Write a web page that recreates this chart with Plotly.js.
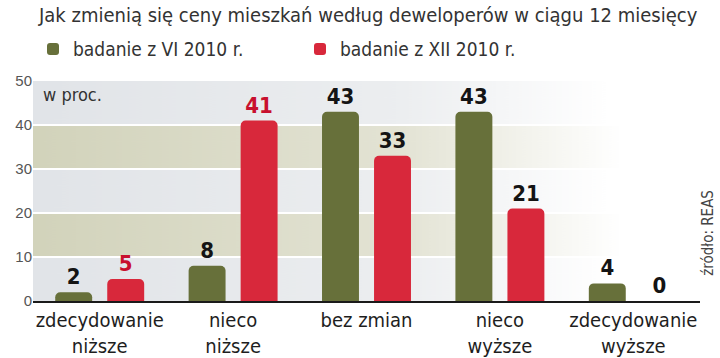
<!DOCTYPE html>
<html>
<head>
<meta charset="utf-8">
<script src="https://cdn.plot.ly/plotly-3.0.1.min.js"></script>
<style>
html,body{margin:0;padding:0;background:#fff;}
#chart{width:720px;height:358px;}
</style>
</head>
<body>
<div id="chart"></div>
<script>
// ---- data ----
const categories = ['zdecydowanie<br>niższe', 'nieco<br>niższe', 'bez zmian', 'nieco<br>wyższe', 'zdecydowanie<br>wyższe'];
const seriesNames = ['badanie z VI 2010 r.', 'badanie z XII 2010 r.'];
const valuesJun = [2, 8, 43, 43, 4];
const valuesDec = [5, 41, 33, 21, 0];
const yTickValues = [0, 10, 20, 30, 40, 50];
const beigeBands = [[10, 20], [30, 40]];
const titleText = 'Jak zmienią się ceny mieszkań według deweloperów w ciągu 12 miesięcy';
const unitText = 'w proc.';
const sourceText = 'źródło: REAS';

// ---- background (gradient fading to white on the right) ----
const yMax = 50;
function makeBackground() {
  const W = 400, H = 500;
  const c = document.createElement('canvas');
  c.width = W; c.height = H;
  const ctx = c.getContext('2d');
  const g = ctx.createLinearGradient(0, 0, W, 0);
  g.addColorStop(0, '#e1e4e8');
  g.addColorStop(0.55, '#eceef0');
  g.addColorStop(0.86, '#ffffff');
  g.addColorStop(1, '#ffffff');
  ctx.fillStyle = g;
  ctx.fillRect(0, 0, W, H);
  beigeBands.forEach(([lo, hi]) => {
    const gb = ctx.createLinearGradient(0, 0, W, 0);
    gb.addColorStop(0, '#d2d3bb');
    gb.addColorStop(0.55, '#e3e3d4');
    gb.addColorStop(0.88, '#ffffff');
    gb.addColorStop(1, '#ffffff');
    ctx.fillStyle = gb;
    const top = (yMax - hi) / yMax * H, bot = (yMax - lo) / yMax * H;
    ctx.fillRect(0, top, W, bot - top);
  });
  return c.toDataURL('image/png');
}

const narrow = '"Liberation Sans Narrow", "DejaVu Sans Condensed", Arial, sans-serif';
const olive = '#67703a';
const red = '#d8283b';

const traceJun = {
  type: 'bar', name: seriesNames[0], x: categories, y: valuesJun,
  marker: {color: olive, cornerradius: 5},
  text: valuesJun.map(String), textposition: 'outside',
  textfont: {family: narrow, size: 22, color: '#141414', weight: 'bold'},
  cliponaxis: false, hoverinfo: 'x+y'
};
const traceDec = {
  type: 'bar', name: seriesNames[1], x: categories, y: valuesDec,
  marker: {color: red, cornerradius: 5},
  text: valuesDec.map(String), textposition: 'outside',
  textfont: {family: narrow, size: 22, color: ['#c8102e', '#c8102e', '#141414', '#141414', '#141414'], weight: 'bold'},
  cliponaxis: false, hoverinfo: 'x+y'
};

const layout = {
  width: 720, height: 358,
  margin: {l: 33, r: 20, t: 81, b: 57},
  paper_bgcolor: '#ffffff', plot_bgcolor: '#ffffff',
  font: {family: narrow, color: '#222'},
  title: {text: titleText, x: 39 / 720, xanchor: 'left', xref: 'container', y: 1 - 15 / 358, yanchor: 'middle', yref: 'container',
          font: {family: narrow, size: 20, color: '#333'}},
  barmode: 'group', bargap: 0.22, bargroupgap: 0.29,
  showlegend: true,
  legend: {orientation: 'h', x: 0.0, xanchor: 'left', y: 1.145, yanchor: 'middle',
           font: {family: narrow, size: 19, color: '#333'}, entrywidth: 222, entrywidthmode: 'pixels',
           bgcolor: 'rgba(0,0,0,0)', traceorder: 'normal'},
  xaxis: {type: 'category', showgrid: false, showline: true, linecolor: '#1a1a1a', linewidth: 2,
          ticks: '', tickfont: {family: narrow, size: 20, color: '#1e1e1e'}, fixedrange: true},
  yaxis: {range: [0, 50], tickvals: yTickValues, showgrid: true, gridcolor: '#ffffff', gridwidth: 2,
          zeroline: false, showline: false, ticks: '', ticklen: 0,
          tickfont: {family: '"Liberation Sans", Arial, sans-serif', size: 15, color: '#555'}, fixedrange: true},
  images: [{source: makeBackground(), xref: 'paper', yref: 'y', x: 0, y: yMax, sizex: 1, sizey: yMax,
            sizing: 'stretch', layer: 'below', xanchor: 'left', yanchor: 'top'}],
  annotations: [
    {text: unitText, xref: 'paper', yref: 'y', x: 0.012, y: 47, xanchor: 'left', yanchor: 'middle',
     showarrow: false, font: {family: narrow, size: 18, color: '#333'}},
    {text: sourceText, xref: 'paper', yref: 'paper', x: 1.012, y: 0.31, xanchor: 'center', yanchor: 'middle',
     textangle: -90, showarrow: false, font: {family: narrow, size: 15, color: '#444'}}
  ]
};

Plotly.newPlot('chart', [traceJun, traceDec], layout, {displayModeBar: false, staticPlot: true});
</script>
</body>
</html>
